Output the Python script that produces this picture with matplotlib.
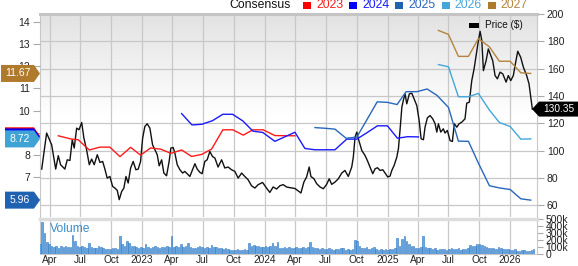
import matplotlib
matplotlib.use('Agg')
import matplotlib.pyplot as plt
import matplotlib.dates as mdates
from matplotlib.patches import Polygon, Rectangle
import numpy as np
import pandas as pd
from datetime import datetime

plt.rcParams['font.family'] = ['Liberation Sans', 'DejaVu Sans']

# ---------------- data (decimal years) ----------------
price_t = [2022.183, 2022.223, 2022.264, 2022.297, 2022.318, 2022.337, 2022.372, 2022.391, 2022.413, 2022.432,
           2022.448, 2022.468, 2022.487, 2022.509, 2022.527, 2022.549, 2022.571, 2022.590, 2022.611, 2022.636,
           2022.658, 2022.680, 2022.698, 2022.717, 2022.739, 2022.761, 2022.780, 2022.799, 2022.815, 2022.835,
           2022.853, 2022.870, 2022.888, 2022.908, 2022.929, 2022.951, 2022.970, 2022.989, 2023.006, 2023.024,
           2023.043, 2023.065, 2023.087, 2023.106, 2023.125, 2023.141, 2023.161, 2023.179, 2023.201, 2023.222,
           2023.236, 2023.255, 2023.269, 2023.288, 2023.310, 2023.332, 2023.350, 2023.369, 2023.391, 2023.413,
           2023.432, 2023.451, 2023.473, 2023.491, 2023.513, 2023.532, 2023.554, 2023.576, 2023.595, 2023.621,
           2023.650, 2023.676, 2023.703, 2023.731, 2023.758, 2023.785, 2023.813, 2023.839, 2023.866, 2023.894,
           2023.921, 2023.948, 2023.984, 2024.016, 2024.043, 2024.070, 2024.098, 2024.125, 2024.152, 2024.179,
           2024.206, 2024.247, 2024.296, 2024.320, 2024.342, 2024.363, 2024.377, 2024.402, 2024.424, 2024.451,
           2024.478, 2024.505, 2024.526, 2024.546, 2024.573, 2024.600, 2024.628, 2024.654, 2024.681, 2024.709,
           2024.722, 2024.736, 2024.750, 2024.763, 2024.791, 2024.817, 2024.836, 2024.858, 2024.880, 2024.899,
           2024.918, 2024.940, 2024.962, 2024.980, 2025.002, 2025.021, 2025.035, 2025.054, 2025.076, 2025.089,
           2025.103, 2025.117, 2025.130, 2025.143, 2025.157, 2025.178, 2025.198, 2025.217, 2025.239, 2025.258,
           2025.274, 2025.293, 2025.306, 2025.325, 2025.347, 2025.369, 2025.388, 2025.402, 2025.415, 2025.434,
           2025.455, 2025.469, 2025.488, 2025.510, 2025.529, 2025.545, 2025.565, 2025.584, 2025.606, 2025.632,
           2025.646, 2025.667, 2025.687, 2025.706, 2025.722, 2025.741, 2025.755, 2025.769, 2025.782, 2025.804,
           2025.822, 2025.842, 2025.858, 2025.877, 2025.896, 2025.918, 2025.940, 2025.967, 2025.985, 2026.005,
           2026.026, 2026.040, 2026.062, 2026.086, 2026.108, 2026.135, 2026.154, 2026.168, 2026.181]
price_v = [86.4, 112.8, 104.2, 86.4, 96.2, 89.6, 86.4, 93.2, 92.7, 107.9,
           101.8, 116.4, 115.2, 120.5, 109.1, 100.5, 89.6, 93.7, 89.6, 96.9,
           91.3, 92.0, 86.4, 79.8, 81.0, 73.7, 72.5, 70.8, 64.0, 70.0,
           72.5, 81.0, 76.2, 87.2, 92.0, 85.9, 86.4, 92.0, 109.1, 117.6,
           119.6, 116.4, 104.2, 100.5, 96.9, 88.8, 93.2, 83.5, 81.5, 92.0,
           101.8, 102.2, 98.1, 89.6, 85.9, 83.5, 84.7, 83.0, 81.0, 85.9,
           90.3, 86.4, 84.0, 83.0, 92.0, 93.2, 99.3, 95.6, 94.5, 87.9,
           93.2, 87.2, 87.9, 85.9, 84.7, 79.8, 83.5, 81.0, 78.6, 74.2,
           72.5, 75.0, 76.6, 72.5, 69.3, 73.3, 71.8, 74.2, 75.0, 73.3,
           72.8, 72.2, 68.9, 76.9, 80.6, 87.9, 81.0, 79.3, 75.7, 73.3,
           72.0, 75.2, 79.3, 75.2, 76.9, 79.3, 83.5, 85.4, 81.0, 87.9,
           95.2, 109.8, 113.5, 108.6, 100.0, 96.4, 92.7, 87.9, 83.0, 86.6,
           87.4, 85.4, 85.9, 83.5, 80.6, 81.3, 85.4, 89.1, 95.2, 101.3,
           115.9, 131.8, 137.1, 141.5, 134.2, 141.5, 142.0, 137.8, 132.9, 122.0,
           108.6, 107.9, 117.1, 123.9, 125.6, 123.2, 119.6, 113.5, 119.6, 113.5,
           115.9, 112.8, 114.7, 107.3, 106.6, 119.6, 117.1, 119.6, 120.8, 123.2,
           134.7, 135.4, 151.2, 159.8, 169.5, 180.5, 187.3, 180.5, 158.5, 165.8,
           174.4, 169.5, 165.8, 154.9, 152.5, 157.4, 156.1, 150.1, 154.9, 151.2,
           154.9, 162.2, 172.7, 168.3, 161.0, 154.9, 148.8, 139.1, 130.35]

c2023_t = [2022.318, 2022.427, 2022.481, 2022.571, 2022.658, 2022.739, 2022.821, 2022.908, 2022.989, 2023.071,
           2023.152, 2023.236, 2023.324, 2023.405, 2023.487, 2023.568, 2023.660, 2023.742, 2023.826, 2023.905,
           2023.989, 2024.084, 2024.247]
c2023_v = [8.86, 8.71, 8.68, 8.22, 8.35, 8.35, 7.92, 8.34, 7.99, 8.31,
           8.26, 8.07, 8.22, 7.93, 8.02, 8.26, 9.13, 9.13, 8.89, 9.13,
           9.13, 8.87, 8.86]
c2024_t = [2023.324, 2023.408, 2023.489, 2023.575, 2023.660, 2023.739, 2023.823, 2023.905, 2023.986, 2024.084,
           2024.247, 2024.328, 2024.410, 2024.491, 2024.573, 2024.668, 2024.750, 2024.836, 2024.918, 2024.999,
           2025.081, 2025.164, 2025.252]
c2024_v = [9.86, 9.35, 9.38, 9.54, 9.83, 9.83, 9.53, 9.07, 9.01, 8.61,
           9.02, 8.29, 8.23, 8.23, 8.23, 8.71, 8.71, 9.01, 9.31, 9.31,
           8.75, 8.82, 8.81]
c2025_t = [2024.410, 2024.491, 2024.573, 2024.663, 2024.750, 2024.831, 2024.916, 2024.997, 2025.078, 2025.152,
           2025.241, 2025.323, 2025.404, 2025.497, 2025.578, 2025.660, 2025.741, 2025.831, 2025.912, 2026.000,
           2026.087, 2026.168]
c2025_v = [9.23, 9.20, 9.16, 8.75, 8.80, 9.57, 10.39, 10.37, 10.27, 10.85,
           10.85, 10.97, 10.68, 10.14, 8.62, 8.61, 7.63, 6.61, 6.51, 6.44,
           6.02, 5.96]
c2026_t = [2025.415, 2025.497, 2025.578, 2025.660, 2025.741, 2025.831, 2025.912, 2026.000, 2026.087, 2026.168]
c2026_v = [12.07, 11.97, 10.62, 10.62, 10.77, 10.02, 9.46, 9.28, 8.71, 8.72]
c2027_t = [2025.415, 2025.497, 2025.578, 2025.660, 2025.741, 2025.831, 2025.912, 2026.000, 2026.087, 2026.168]
c2027_v = [13.61, 13.43, 12.44, 12.44, 13.24, 12.87, 12.22, 12.22, 11.70, 11.67]

volume_k = [150, 455, 300, 170, 150, 110, 95, 120, 90, 110, 100, 115, 95, 105, 270, 190,
            110, 95, 120, 100, 90, 155, 100, 90, 85, 115, 100, 80, 70, 75, 65, 85, 80, 70,
            260, 150, 120, 190, 155, 120, 110, 95, 85, 100, 90, 140,
            100, 85, 95, 110, 100, 90, 105, 95, 110, 100, 260, 100, 110, 95, 150, 100, 120, 155,
            95, 90, 80, 100, 110, 95, 85, 100, 90, 125,
            95, 100, 85, 90, 70, 80, 65, 60, 55, 60, 65, 55, 60, 70, 60, 155,
            120, 130, 110, 115, 95, 100, 110, 100, 115, 160, 110, 170,
            90, 85, 95, 80, 100, 90, 85, 95, 80, 90, 100, 85, 95, 170,
            100, 90, 80, 75, 85, 70, 65, 80, 70, 60, 75, 65, 90, 80, 60, 70, 55, 65, 200, 190,
            110, 85, 80, 95, 70, 80, 100, 75, 60, 70, 55, 65, 60, 75, 70, 80,
            230, 120, 210, 255, 190, 140, 110, 120, 90, 85, 95, 265,
            100, 90, 80, 70, 85, 60, 75, 65, 70, 60, 75, 80, 70, 65, 85, 60, 75, 70, 80,
            135, 110, 120, 140, 150, 125, 110, 100, 90, 85, 80, 70, 100,
            85, 75, 65, 70, 60, 55, 65, 50, 45, 55, 60, 50, 45, 55, 65]
volume_start = '2022-03-03'

x_range = (2022.169, 2026.219)
eps_ticks = [6, 7, 8, 9, 10, 11, 12, 13, 14]
eps_tick_labels = ['', '7', '8', '', '10', '11', '12', '13', '14']   # 6 and 9 sit under the tags
price_ticks = [60, 80, 100, 120, 140, 160, 180, 200]
vol_ticks = [0, 100, 200, 300, 400, 500]
vol_tick_labels = ['0', '100k', '200k', '300k', '400k', '500k']
legend_years = ['2023', '2024', '2025', '2026', '2027']

colors = {'2023': '#ff1a1a', '2024': '#1a1aff', '2025': '#2767bd', '2026': '#43a6dc', '2027': '#b5843c'}
tag_colors = {'2023': '#ff0000', '2024': '#0000ff', '2025': '#1f62b2', '2026': '#3fa3d6', '2027': '#b07a2c'}


def yr2num(y):
    out = []
    for v in np.atleast_1d(y):
        yr = int(v)
        start = datetime(yr, 1, 1)
        end = datetime(yr + 1, 1, 1)
        out.append(mdates.date2num(start + (end - start) * (v - yr)))
    return np.array(out)


W, H = 578, 266
fig = plt.figure(figsize=(W / 100, H / 100), dpi=100)


def px_axes(l, t, r, b):
    return fig.add_axes([l / W, 1 - b / H, (r - l) / W, (b - t) / H])


ax = px_axes(40, 14, 537, 217)     # price (right scale)
axe = ax.twinx()                    # EPS (left scale)
axv = px_axes(40, 219, 537, 254)    # volume

# background gradient
n = 200
g = np.ones((n, 1, 3))
top = np.array([0.886, 0.886, 0.886])
for i in range(n):
    f = i / (n - 1)
    w = min(f / 0.5, 1.0)
    g[i, 0, :] = top * (1 - w) + np.array([1, 1, 1]) * w
ax.imshow(g, extent=(0, 1, 0, 1), transform=ax.transAxes, aspect='auto', zorder=-5,
          interpolation='bilinear')

xlim = yr2num(x_range)
quarters = pd.date_range('2022-04-01', '2026-01-01', freq='QS')
qnums = mdates.date2num(quarters.to_pydatetime())
qlabels = [str(d.year) if d.month == 1 else d.strftime('%b') for d in quarters]

grid_c = '#c8c8c8'
ax.plot(yr2num(price_t), price_v, color='#111111', lw=1.0, zorder=3)
ax.set_ylim(51.3, 200)
ax.set_xlim(*xlim)
ax.yaxis.tick_right()
ax.set_yticks(price_ticks)
ax.set_xticks(qnums)
ax.set_xticklabels([])
ax.tick_params(axis='x', length=0)
ax.tick_params(axis='y', direction='out', length=5, color='#aaaaaa', labelsize=7.5, pad=2,
               labelcolor='#222222')
ax.grid(True, color=grid_c, lw=0.9)
for s in ['left', 'right']:
    ax.spines[s].set_color(grid_c)
ax.spines['top'].set_color('#c4c4c4')
ax.spines['top'].set_linewidth(2.2)
ax.spines['bottom'].set_visible(False)

for yr, t, v in [('2023', c2023_t, c2023_v), ('2024', c2024_t, c2024_v), ('2025', c2025_t, c2025_v),
                 ('2026', c2026_t, c2026_v), ('2027', c2027_t, c2027_v)]:
    axe.plot(yr2num(t), v, color=colors[yr], lw=1.0)
axe.set_ylim(5.2, 14.35)
axe.set_xlim(*xlim)
axe.yaxis.tick_left()
axe.set_yticks(eps_ticks)
axe.set_yticklabels(eps_tick_labels)
axe.tick_params(axis='y', direction='out', length=5, color='#aaaaaa', labelsize=7.5, pad=2,
                labelcolor='#222222')
for s in axe.spines.values():
    s.set_visible(False)

# volume
vdates = pd.date_range(volume_start, periods=len(volume_k), freq='7D')
axv.bar(mdates.date2num(vdates.to_pydatetime()), volume_k, width=4.6, color='#64a6e2',
        edgecolor='#2f78c4', linewidth=0.4, zorder=3)
axv.set_xlim(*xlim)
axv.set_ylim(0, 505)
axv.yaxis.tick_right()
axv.set_yticks(vol_ticks)
axv.set_yticklabels(vol_tick_labels)
axv.set_xticks(qnums)
axv.set_xticklabels(qlabels)
axv.tick_params(axis='x', length=0, labelsize=7.3, pad=0.5, labelcolor='#222222')
axv.tick_params(axis='y', direction='out', length=4, color='#aaaaaa', labelsize=7.5, pad=2,
                labelcolor='#222222')
axv.grid(True, axis='x', color=grid_c, lw=0.9)
axv.spines['top'].set_color('#dddddd')
axv.spines['top'].set_linewidth(2.5)
for s in ['left', 'right', 'bottom']:
    axv.spines[s].set_color(grid_c)
axv.set_facecolor('white')

# ---------------- texts / legends ----------------
def fx(x):
    return x / W


def fy(y):
    return 1 - y / H


fig.text(fx(229), fy(5), 'Consensus', fontsize=8.8, color='#111111', va='center', ha='left')
for i, yr in enumerate(legend_years):
    x0 = 303 + i * 46.2
    fig.patches.append(Rectangle((fx(x0), fy(8.5)), 8 / W, 7 / H, transform=fig.transFigure,
                                 color=tag_colors[yr] if yr != '2026' else colors['2026'], lw=0))
    fig.text(fx(x0 + 13), fy(5), yr, fontsize=8.8, color=colors[yr], va='center', ha='left')

fig.patches.append(Rectangle((fx(469), fy(27.5)), 10 / W, 4.5 / H, transform=fig.transFigure,
                             color='black', lw=0))
fig.text(fx(485), fy(25), 'Price ($)', fontsize=7.2, color='#111111', va='center', ha='left')
fig.text(fx(50), fy(229), 'Volume', fontsize=8.7, color='#3a8fd0', va='center', ha='left')


# value tags
def left_tag(val, color, label, left, z):
    yc = axe.transData.transform((0, val))[1]
    h = 8.5
    verts = [(left, yc - h), (34, yc - h), (40, yc), (34, yc + h), (left, yc + h)]
    verts = [(x / W, y / H) for x, y in verts]
    fig.patches.append(Polygon(verts, closed=True, transform=fig.transFigure, facecolor=color,
                               edgecolor='none', zorder=z))
    if label:
        fig.text(((left + 34) / 2) / W, yc / H, label, color='white', fontsize=7.5, ha='center',
                 va='center', zorder=z + 0.5)


# 2023 / 2024 tags are hidden behind the 2026 tag (only their top edge shows)
left_tag(c2023_v[-1], tag_colors['2023'], '', 5, 10)
left_tag(c2024_v[-1], tag_colors['2024'], '', 5, 11)
left_tag(c2027_v[-1], tag_colors['2027'], f'{c2027_v[-1]:.2f}', 1, 12)
left_tag(c2025_v[-1], tag_colors['2025'], f'{c2025_v[-1]:.2f}', 5, 13)
left_tag(c2026_v[-1], tag_colors['2026'], f'{c2026_v[-1]:.2f}', 5, 14)

yc = ax.transData.transform((0, price_v[-1]))[1]
h = 7.5
verts = [(532, yc), (539, yc + h), (580, yc + h), (580, yc - h), (539, yc - h)]
verts = [(x / W, y / H) for x, y in verts]
fig.patches.append(Polygon(verts, closed=True, transform=fig.transFigure, facecolor='black',
                           edgecolor='none', zorder=15))
fig.text(559 / W, yc / H, f'{price_v[-1]:.2f}', color='white', fontsize=7.3, ha='center',
         va='center', zorder=16)

fig.savefig('out.png', dpi=100)
